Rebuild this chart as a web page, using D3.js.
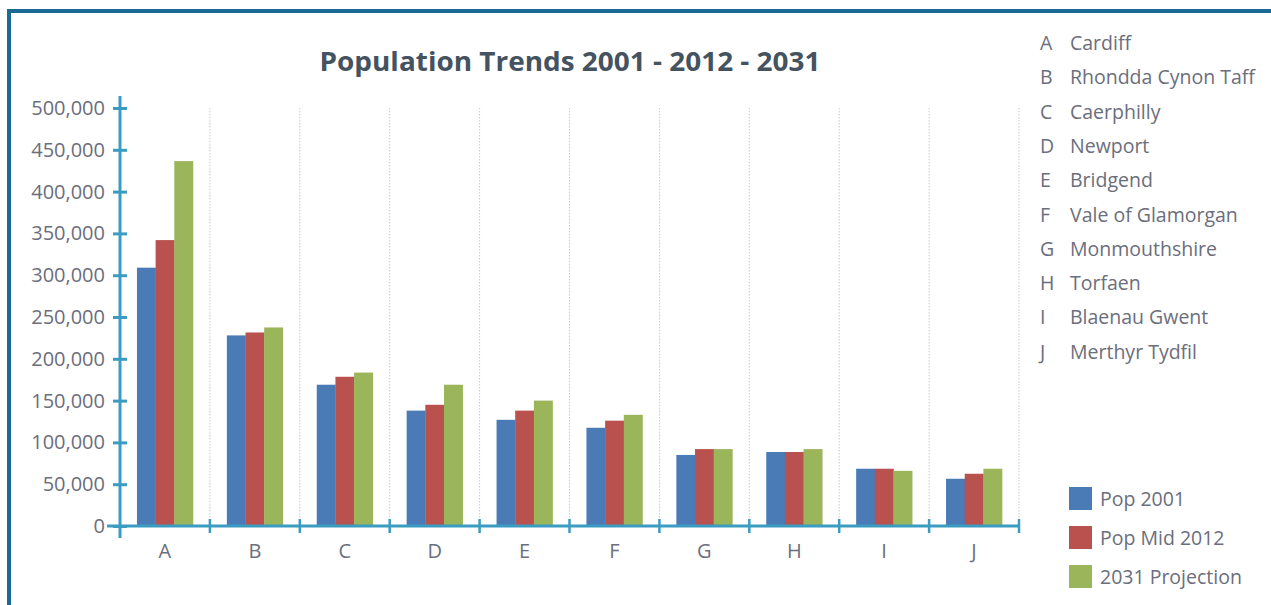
<!DOCTYPE html>
<html>
<head>
<meta charset="utf-8">
<script src="https://cdn.jsdelivr.net/npm/d3@7"></script>
<style>
  html, body { margin: 0; padding: 0; background: #fff; }
  svg { display: block; }
  text { font-family: "Open Sans", "Noto Sans", sans-serif; }
</style>
</head>
<body>
<svg id="chart" width="1271" height="605"></svg>
<script>
const categories = ["A", "B", "C", "D", "E", "F", "G", "H", "I", "J"];
const areaNames = ["Cardiff", "Rhondda Cynon Taff", "Caerphilly", "Newport", "Bridgend",
  "Vale of Glamorgan", "Monmouthshire", "Torfaen", "Blaenau Gwent", "Merthyr Tydfil"];
const seriesNames = ["Pop 2001", "Pop Mid 2012", "2031 Projection"];
const pop2001 = [309000, 228000, 169000, 138000, 127000, 117500, 85000, 88500, 68500, 56500];
const pop2012 = [342000, 231500, 178500, 145000, 138000, 126000, 92000, 88500, 68500, 62500];
const proj2031 = [436500, 237500, 183500, 169000, 150000, 133000, 92000, 92000, 66000, 68500];
const yTicks = [0, 50000, 100000, 150000, 200000, 250000, 300000, 350000, 400000, 450000, 500000];
const seriesColors = ["#4a7bb6", "#b9514e", "#9bb55b"];

const series = [pop2001, pop2012, proj2031];
const svg = d3.select("#chart");

// frame border
svg.append("path")
  .attr("d", "M9,610 L9,11 L1280,11")
  .attr("fill", "none")
  .attr("stroke", "#196b95")
  .attr("stroke-width", 4);

const x0 = d3.scaleBand().domain(categories).range([120, 1019]).padding(0);
const groupW = 56;
const x1 = d3.scaleBand().domain(d3.range(series.length)).range([0, groupW]).padding(0);
const y = d3.scaleLinear().domain([0, 500000]).range([526, 108]);

const axisColor = "#3a9cc1";
const labelColor = "#6b6e7c";

// grid lines (dotted)
svg.append("g").selectAll("line")
  .data(categories)
  .join("line")
  .attr("x1", d => x0(d) + x0.bandwidth())
  .attr("x2", d => x0(d) + x0.bandwidth())
  .attr("y1", y(500000))
  .attr("y2", y(0))
  .attr("stroke", "#cfcac4")
  .attr("stroke-width", 1)
  .attr("stroke-dasharray", "1.5,1.5");

// bars
const groups = svg.append("g").selectAll("g")
  .data(categories)
  .join("g")
  .attr("transform", d => `translate(${x0(d) + (x0.bandwidth() - groupW) / 2},0)`);

groups.selectAll("rect")
  .data((d, i) => series.map((s, k) => ({ k, v: s[i] })))
  .join("rect")
  .attr("x", d => x1(d.k))
  .attr("width", x1.bandwidth() + 0.3)
  .attr("y", d => y(d.v))
  .attr("height", d => y(0) - y(d.v))
  .attr("fill", d => seriesColors[d.k]);

// y axis
const yAxis = svg.append("g").attr("transform", "translate(120,0)")
  .call(d3.axisLeft(y).tickValues(yTicks).tickFormat(d3.format(",")).tickSize(0).tickPadding(15));
yAxis.select(".domain").remove();
yAxis.selectAll("text").attr("fill", labelColor).attr("font-size", "20px");
yAxis.selectAll(".tick line").remove();
yAxis.selectAll(".tick").append("line")
  .attr("x1", -7).attr("x2", 7)
  .attr("stroke", axisColor).attr("stroke-width", 3);
svg.append("line")
  .attr("x1", 120).attr("x2", 120).attr("y1", 96).attr("y2", 538)
  .attr("stroke", axisColor).attr("stroke-width", 3);

// x axis
svg.append("line")
  .attr("x1", 107).attr("x2", 1020).attr("y1", 526).attr("y2", 526)
  .attr("stroke", axisColor).attr("stroke-width", 3);
const xAxis = svg.append("g").attr("transform", "translate(0,526)")
  .call(d3.axisBottom(x0).tickSize(0).tickPadding(18));
xAxis.select(".domain").remove();
xAxis.selectAll("text").attr("fill", labelColor).attr("font-size", "20px");
svg.append("g").selectAll("line")
  .data(categories)
  .join("line")
  .attr("x1", d => x0(d) + x0.bandwidth())
  .attr("x2", d => x0(d) + x0.bandwidth())
  .attr("y1", 519).attr("y2", 533)
  .attr("stroke", axisColor).attr("stroke-width", 2.5);

// title
svg.append("text")
  .attr("x", 570).attr("y", 71)
  .attr("text-anchor", "middle")
  .attr("font-size", "27px")
  .attr("font-weight", "bold")
  .attr("fill", "#44535f")
  .attr("textLength", 501)
  .attr("lengthAdjust", "spacingAndGlyphs")
  .text("Population Trends 2001 - 2012 - 2031");

// category key
const key = svg.append("g").selectAll("g")
  .data(categories)
  .join("g")
  .attr("transform", (d, i) => `translate(0,${50 + i * 34.3})`);
key.append("text").attr("x", 1040).attr("fill", labelColor).attr("font-size", "19.5px").text(d => d);
key.append("text").attr("x", 1070).attr("fill", labelColor).attr("font-size", "19.5px").text((d, i) => areaNames[i]);

// series legend
const leg = svg.append("g").selectAll("g")
  .data(seriesNames)
  .join("g")
  .attr("transform", (d, i) => `translate(1069,${487 + i * 39})`);
leg.append("rect").attr("width", 23).attr("height", 23).attr("fill", (d, i) => seriesColors[i]);
leg.append("text").attr("x", 31).attr("y", 19).attr("fill", labelColor).attr("font-size", "19.5px").text(d => d);
</script>
</body>
</html>
